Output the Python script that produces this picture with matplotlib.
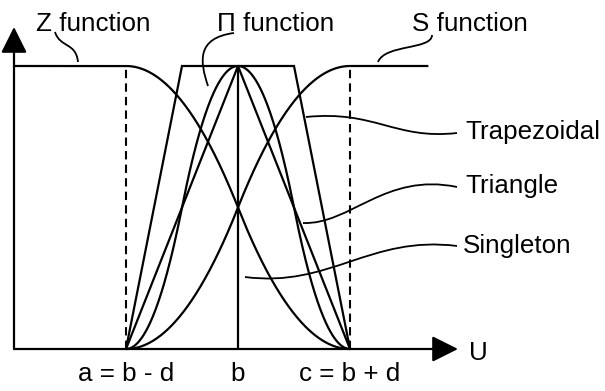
import numpy as np
import matplotlib
matplotlib.use("Agg")
import matplotlib.pyplot as plt
from matplotlib.path import Path
from matplotlib.patches import PathPatch

plt.rcParams['font.family'] = ['Liberation Sans', 'DejaVu Sans']

# ---- data (b = 0, d = 1) ----
b = 0.0
d = 1.0
a = b - d
c = b + d
tick_pos = [a, b, c]
tick_labels = ["a = b - d", "b", "c = b + d"]

trap_x = [a, b - d / 2, b + d / 2, c]
trap_y = [0, 1, 1, 0]
tri_x = [a, b, c]
tri_y = [0, 1, 0]
single_x = [b, b]
single_y = [0, 1]
z_start = -2.0      # Z function starts at the vertical axis
s_end = 1.70        # S function flat part ends here

def s_func(x, lo, mid, hi):
    x = np.asarray(x, dtype=float)
    y = np.zeros_like(x)
    m1 = (x > lo) & (x <= mid)
    m2 = (x > mid) & (x < hi)
    y[m1] = 2 * ((x[m1] - lo) / (hi - lo)) ** 2
    y[m2] = 1 - 2 * ((x[m2] - hi) / (hi - lo)) ** 2
    y[x >= hi] = 1
    return y

# ---- figure ----
W, H = 605, 391
fig = plt.figure(figsize=(W / 100, H / 100), dpi=100)
ax = fig.add_axes([0, 0, 1, 1])
# pixel mapping: x_pix = 238 + 112*x ; y_pix = 349 - 283*y
X0, SX, Y0, SY = 238.0, 112.0, 349.0, 283.0
ax.set_xlim((0 - X0) / SX, (W - X0) / SX)
ax.set_ylim((Y0 - H) / SY, Y0 / SY)
ax.axis('off')

def P(xp, yp):
    return ((xp - X0) / SX, (Y0 - yp) / SY)

lw = 1.6
k = dict(color='black', lw=lw, solid_capstyle='butt', solid_joinstyle='miter')

# axes arrows
org = P(14, 349)
ax.annotate('', xy=P(14, 27), xytext=org,
            arrowprops=dict(arrowstyle='-|>,head_length=0.4,head_width=0.2',
                            mutation_scale=40, lw=lw, color='black',
                            shrinkA=0, shrinkB=0))
ax.annotate('', xy=P(458, 349), xytext=org,
            arrowprops=dict(arrowstyle='-|>,head_length=0.4,head_width=0.2',
                            mutation_scale=40, lw=lw, color='black',
                            shrinkA=0, shrinkB=0))

# curves
xz = np.linspace(z_start, c, 400)
ax.plot(xz, 1 - s_func(xz, a, b, c), **k)
xs = np.linspace(a, s_end, 400)
ax.plot(xs, s_func(xs, a, b, c), **k)
xl = np.linspace(a, b, 200)
xr = np.linspace(b, c, 200)
ax.plot(xl, s_func(xl, a, (a + b) / 2, b), **k)
ax.plot(xr, 1 - s_func(xr, b, (b + c) / 2, c), **k)
ax.plot(trap_x, trap_y, **k)
ax.plot(tri_x, tri_y, **k)
ax.plot(single_x, single_y, **k)

# dashed lines at a and c
for xv in (a, c):
    ax.plot([xv, xv], [0, 1], color='black', lw=1.5, linestyle=(0, (4, 2.5)))

# leader curves
def leader(p0, c1, c2, p3):
    path = Path([P(*p0), P(*c1), P(*c2), P(*p3)],
                [Path.MOVETO, Path.CURVE4, Path.CURVE4, Path.CURVE4])
    ax.add_patch(PathPatch(path, fill=False, lw=1.3, color='black'))

leader((55, 32), (60, 48), (76, 42), (78, 62))          # Z
leader((234, 33), (196, 38), (200, 62), (208, 86))      # Pi
leader((432, 35), (432, 50), (385, 44), (378, 62))      # S
leader((306, 117), (375, 110), (395, 140), (457, 133))  # Trapezoidal
leader((303, 223), (350, 225), (385, 172), (457, 187))  # Triangle
leader((245, 277), (330, 288), (370, 235), (457, 246))  # Singleton

fs = 18.7
def txt(xp, yp, s, ha='left'):
    ax.text(*P(xp, yp), s, fontsize=fs, ha=ha, va='baseline', color='black')

txt(36, 31, "Z function")
txt(217, 31, "\u03a0 function")
txt(412, 31, "S function")
txt(465, 139, "Trapezoidal")
txt(465, 193, "Triangle")
txt(463, 253, "Singleton")
txt(469, 360, "U")

for xv, lab in zip(tick_pos, tick_labels):
    ax.text(xv, (Y0 - 381) / SY, lab, fontsize=fs, ha='center', va='baseline')

fig.savefig('out.png', dpi=100)
